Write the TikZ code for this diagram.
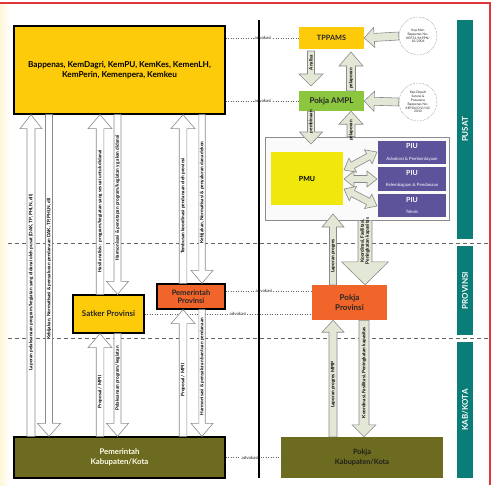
\documentclass[tikz,border=0pt]{standalone}
\usepackage{fontspec}
\setmainfont{Lato}
\usetikzlibrary{calc}
\definecolor{cyel}{HTML}{FDCB0A}
\definecolor{cgrn}{HTML}{8CC63F}
\definecolor{corg}{HTML}{F1652A}
\definecolor{coli}{HTML}{6C6B1F}
\definecolor{cpmu}{HTML}{F0E70C}
\definecolor{cpiu}{HTML}{5C539B}
\definecolor{cteal}{HTML}{0B7D79}
\definecolor{csage}{HTML}{E3E7D5}
\definecolor{cred}{HTML}{E0363A}
\definecolor{cedge}{HTML}{8A8A8A}
\definecolor{ccream}{HTML}{FFF6D8}

% block arrow: [style]{tail}{tip}{half shaft}{half head}{head length}{name}{text}
\newcommand\barrow[8][]{%
  \coordinate (bA) at (#2);\coordinate (bB) at (#3);
  \coordinate (bN) at ($(bB)!#6!(bA)$);
  \draw[blk,#1] ($(bA)!#4!90:(bB)$) -- ($(bN)!#4!90:(bB)$) -- ($(bN)!#5!90:(bB)$)
    -- (bB) -- ($(bN)!#5!-90:(bB)$) -- ($(bN)!#4!-90:(bB)$) -- ($(bA)!#4!-90:(bB)$) -- cycle;
  \node[atext] (#7) at ($(bA)!0.5!(bN)$) {#8};
}
% double-headed block arrow: [style]{end1}{end2}{half shaft}{half head}{head length}
\newcommand\dblarrow[6][]{%
  \coordinate (dA) at (#2);\coordinate (dB) at (#3);
  \coordinate (dN) at ($(dB)!#6!(dA)$);\coordinate (dM) at ($(dA)!#6!(dB)$);
  \draw[blk,#1] (dA) -- ($(dM)!#5!90:(dB)$) -- ($(dM)!#4!90:(dB)$) -- ($(dN)!#4!90:(dB)$)
    -- ($(dN)!#5!90:(dB)$) -- (dB) -- ($(dN)!#5!-90:(dB)$) -- ($(dN)!#4!-90:(dB)$)
    -- ($(dM)!#4!-90:(dB)$) -- ($(dM)!#5!-90:(dB)$) -- cycle;
}

\begin{document}
\begin{tikzpicture}[x=1pt,y=-1pt,
  box/.style={draw=black,line width=1.3pt,inner sep=1pt,align=center},
  flat/.style={inner sep=1pt,align=center},
  blk/.style={draw=cedge,line width=0.6pt,fill=white,line join=miter},
  sage/.style={fill=csage},
  atext/.style={rotate=90,font=\fontsize{4.7}{5.1}\selectfont\bfseries,text=black,inner sep=0,align=center},
  adv/.style={draw=black!60,dotted,line width=0.5pt},
  advl/.style={font=\fontsize{4.4}{5}\selectfont,text=black!85,fill=white,inner sep=0.6pt},
  side/.style={fill=cteal,rotate=90,minimum height=16pt,text=white,font=\fontsize{8}{8}\selectfont\bfseries,inner sep=0},
  piu/.style={fill=cpiu,text=white,minimum width=68pt,align=center,inner sep=0.5pt},
  circ/.style={circle,draw=black!55,densely dotted,line width=0.5pt,minimum size=38pt,inner sep=0,align=center,font=\fontsize{3.3}{3.9}\selectfont,text=black!85}
]
\useasboundingbox (0,0) rectangle (494,485);
\fill[left color=ccream,right color=white] (0,4) rectangle (10,485);

% level separators
\draw[black!60,dash pattern=on 4pt off 3pt,line width=0.5pt] (8,243) -- (490,243);
\draw[black!60,dash pattern=on 4pt off 3pt,line width=0.5pt] (8,338) -- (490,338);

% side bars
\node[side,minimum width=219pt] (spusat) at (465,129.5) {PUSAT};
\node[side,minimum width=89pt] (sprov) at (465,290.5) {PROVINSI};
\node[side,minimum width=136pt] (skab) at (465,410) {KAB/KOTA};

% left boxes
\node[box,fill=cyel,minimum width=211pt,minimum height=88pt,font=\fontsize{8.2}{10}\selectfont\bfseries] (bap) at (119.5,70)
  {Bappenas, KemDagri, KemPU, KemKes, KemenLH,\\KemPerin, Kemenpera, Kemkeu};
\node[box,fill=cyel,minimum width=71pt,minimum height=38pt,font=\fontsize{8}{9}\selectfont\bfseries,text=black!85] (satker) at (108.5,314) {Satker Provinsi};
\node[box,fill=corg,minimum width=68pt,minimum height=25pt,font=\fontsize{7.5}{8.5}\selectfont\bfseries,text=black!85] (pemprov) at (191,296.5) {Pemerintah\\Provinsi};
\node[box,fill=coli,minimum width=211pt,minimum height=41pt,font=\fontsize{7.8}{10}\selectfont\bfseries,text=white!92!yellow] (kab) at (119.5,457.5) {Pemerintah\\Kabupaten/Kota};

% right boxes
\node[flat,fill=cyel,minimum width=65pt,minimum height=22pt,font=\fontsize{7.3}{8}\selectfont\bfseries,text=black!85] (tppams) at (331.5,38) {TPPAMS};
\node[flat,fill=cgrn,minimum width=65pt,minimum height=20pt,font=\fontsize{8}{9}\selectfont\bfseries,text=black!85] (ampl) at (331.5,101) {Pokja AMPL};
\node[draw=black!45,fill=black!2,line width=0.6pt,minimum width=184pt,minimum height=83pt] (cont) at (357,178.5) {};
\node[flat,fill=cpmu,minimum width=72pt,minimum height=53pt,font=\fontsize{7}{8}\selectfont\bfseries] (pmu) at (307,178.5) {PMU};
\node[piu,minimum height=23pt] (piu1) at (412,152.5) {{\fontsize{7}{8}\selectfont\bfseries PIU}\\[-0.5pt]{\fontsize{4.4}{5}\selectfont Advokasi \& Pemberdayaan}};
\node[piu,minimum height=24pt] (piu2) at (412,179) {{\fontsize{7}{8}\selectfont\bfseries PIU}\\[-0.5pt]{\fontsize{4.4}{5}\selectfont Kelembagaan \& Pendanaan}};
\node[piu,minimum height=23pt] (piu3) at (412,205.5) {{\fontsize{7}{8}\selectfont\bfseries PIU}\\[-0.5pt]{\fontsize{4.4}{5}\selectfont Teknis}};
\node[flat,fill=corg,minimum width=75pt,minimum height=35pt,font=\fontsize{8}{9.5}\selectfont\bfseries,text=black!85] (pokjaprov) at (349.5,302.5) {Pokja\\Provinsi};
\node[flat,fill=coli,minimum width=162pt,minimum height=41pt,font=\fontsize{7.3}{9.5}\selectfont\bfseries,text=black!88] (pokjakab) at (362,457.5) {Pokja\\Kabupaten/Kota};

% decrees
\node[circ] (circ1) at (418,36) {Kep.Men\\Bappenas No.:\\KEP.31/M.PPN/\\10/2006};
\node[circ] (circ2) at (418,102) {Kep.Deputi\\Sarana \&\\Prasarana\\Bappenas No.:\\KEP.06/D.VI/10/\\2010};

% advokasi lines
\draw[adv] (bap.east |- tppams.west) -- (tppams.west);
\node[advl] (adv1) at (263,38) {advokasi};
\draw[adv] (bap.east |- ampl.west) -- (ampl.west);
\node[advl] (adv2) at (263,101) {advokasi};
\coordinate (a3) at ($(pemprov.east)+(0,-5.5)$);
\draw[adv] (a3) -- (a3 -| pokjaprov.west);
\node[advl] (adv3) at (264,291) {advokasi};
\draw[adv] (satker.east) -- (satker.east -| pokjaprov.west);
\node[advl] (adv4) at (238,314) {advokasi};
\draw[adv] (kab.east) -- (pokjakab.west);
\node[advl] (adv5) at (250,457.5) {advokasi};

% central vertical line
\draw[black,line width=1.6pt] (259,20) -- (259,478);

% left column arrows
\barrow{31,0 |- kab.north}{31,0 |- bap.south}{4pt}{11pt}{14pt}{t1}{Laporan pelaksanaan program/kegiatan yang didanai oleh pusat (DAK, TP, PHLN, dll)}
\barrow{49,0 |- bap.south}{49,0 |- kab.north}{3.5pt}{11.5pt}{13pt}{t2}{Kebijakan, Normatisasi \& penyaluran pendanaan DAK, TP, PHLN, dll}
\barrow{100,0 |- satker.north}{100,0 |- bap.south}{3.8pt}{12pt}{14pt}{t3}{Hasil analisis : program/kegiatan yang sesuai untuk didanai}
\barrow{117.5,0 |- bap.south}{117.5,0 |- satker.north}{3.5pt}{11pt}{13pt}{t4}{Harmonisasi \& penetapan program/kegiatan yg akan didanai}
\barrow{100,0 |- kab.north}{100,0 |- satker.south}{3.8pt}{12pt}{14pt}{t5}{Proposal / MPII}
\barrow{117.5,0 |- satker.south}{117.5,0 |- kab.north}{3.5pt}{11pt}{13pt}{t6}{Pelaksanaan program/kegiatan}
\barrow{183,0 |- pemprov.north}{183,0 |- bap.south}{3.8pt}{12pt}{14pt}{t7}{Tembusan koordinasi pendanaan oleh provinsi}
\barrow{202,0 |- bap.south}{202,0 |- pemprov.north}{3.2pt}{11pt}{13pt}{t8}{Kebijakan, Normatisasi \& penyaluran dana dekon}
\barrow{183,0 |- kab.north}{183,0 |- pemprov.south}{3.8pt}{12pt}{14pt}{t9}{Proposal / MPII}
\barrow{202,0 |- pemprov.south}{202,0 |- kab.north}{3.2pt}{11pt}{13pt}{t10}{Harmonisasi \& penyaluran bantuan pendanaan}

% right column arrows
\barrow[sage]{circ1.west}{tppams.east}{4pt}{10pt}{10pt}{t11}{}
\barrow[sage]{circ2.west}{ampl.east}{4pt}{10pt}{10pt}{t12}{}
\barrow[sage]{311,51}{311,86}{3.5pt}{12pt}{12pt}{t13}{Analisa}
\barrow[sage]{351,0 |- ampl.north}{351,52}{4.5pt}{12pt}{14pt}{t14}{pelaporan}
\barrow[sage]{311,0 |- ampl.south}{311,144}{3.5pt}{11.5pt}{12pt}{t15}{pembinaan}
\barrow[sage]{351,0 |- cont.north}{351,0 |- ampl.south}{4pt}{12pt}{13pt}{t16}{pelaporan}
\dblarrow[sage]{344,170}{377,152}{3.5pt}{8pt}{10pt}
\dblarrow[sage]{344,179}{377,179}{3.5pt}{8pt}{10pt}
\dblarrow[sage]{344,189}{377,206}{3.5pt}{8pt}{10pt}
\barrow[sage]{333,0 |- pokjaprov.north}{333,214}{3.5pt}{11pt}{13pt}{t18}{Laporan progres}
\barrow[sage]{365,0 |- cont.south}{365,0 |- pokjaprov.north}{7pt}{23.5pt}{23pt}{t19}{Koordinasi, Fasilitasi,\\Peningkatan kapasitas}
\barrow[sage]{333,0 |- pokjakab.north}{333,0 |- pokjaprov.south}{4pt}{11pt}{12pt}{t20}{Laporan progres MPIP}
\barrow[sage]{364,0 |- pokjaprov.south}{364,0 |- pokjakab.north}{5pt}{12pt}{12pt}{t21}{Koordinasi, Fasilitasi, Peningkatan kapasitas}

% red frame
\draw[cred,line width=1.2pt] (0,3) -- (490,3) -- (490,485);
\end{tikzpicture}
\end{document}
